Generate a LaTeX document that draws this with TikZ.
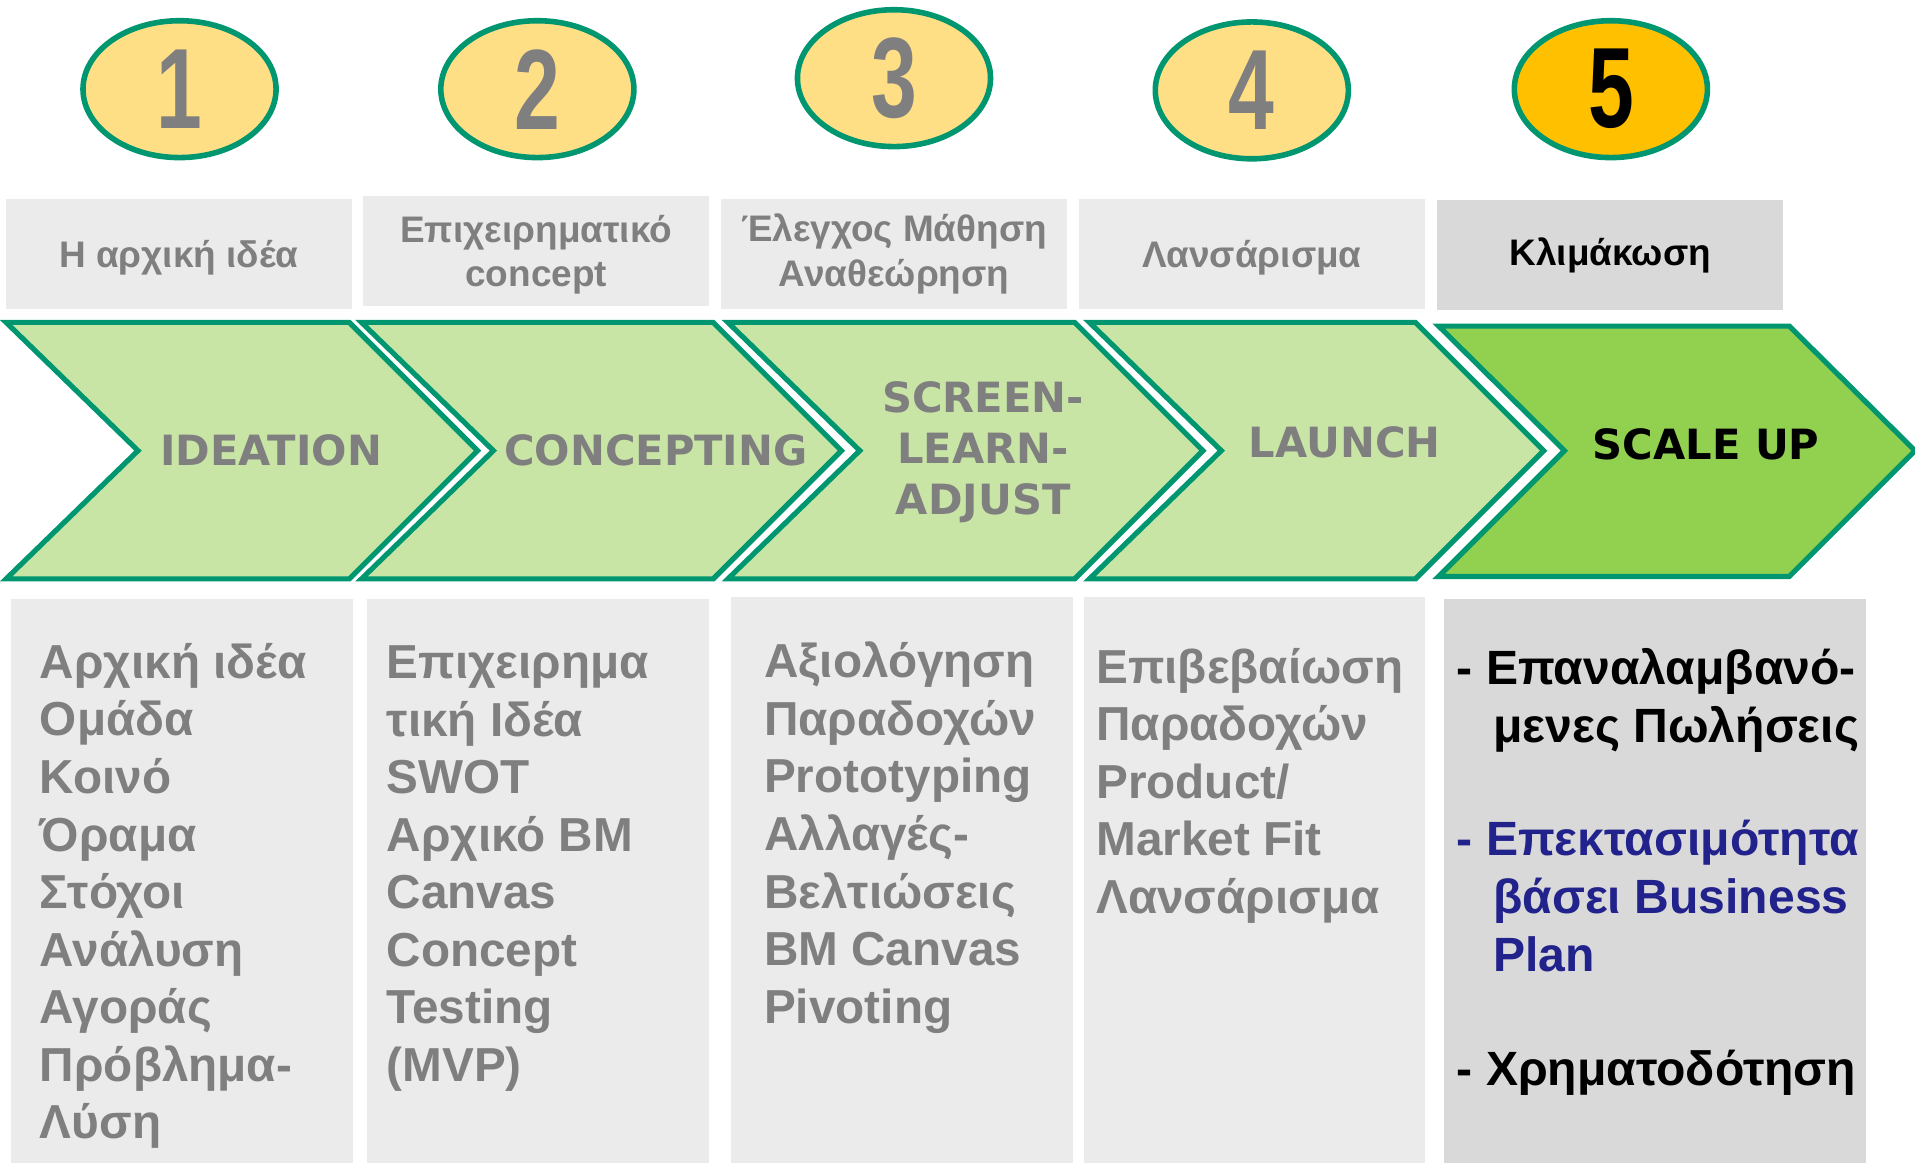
\documentclass[tikz,border=0pt]{standalone}
\usepackage{fontspec}
\setmainfont{Liberation Sans}
\newfontfamily\chevfont{DejaVu Sans}
\usepackage{graphicx}
\usepackage{tikz}
\usetikzlibrary{positioning,shapes.geometric}
\definecolor{stepgreen}{HTML}{009670}
\definecolor{lightleaf}{HTML}{C9E5A6}
\definecolor{brightleaf}{HTML}{92D050}
\definecolor{paleyellow}{HTML}{FFDF85}
\definecolor{goldyellow}{HTML}{FFC000}
\definecolor{textgray}{HTML}{7F7F7F}
\definecolor{panelgray}{HTML}{EBEBEB}
\definecolor{darkpanel}{HTML}{D9D9D9}
\definecolor{navyblue}{HTML}{22228C}
\newcommand{\digit}[1]{\scalebox{0.72}[1]{\fontsize{26.6}{26.6}\selectfont\bfseries #1}}
\newcommand{\indentline}{\hspace*{0.3cm}}
\tikzset{
  badge/.style={ellipse, draw=stepgreen, line width=1.3pt, fill=paleyellow, minimum width=1.58cm, minimum height=1.12cm, inner sep=0pt, text=textgray},
  header/.style={rectangle, fill=panelgray, minimum width=2.83cm, minimum height=0.9cm, inner sep=0pt, text=textgray, align=center, font=\fontsize{8.6}{10.3}\selectfont\bfseries},
  chevron/.style={draw=stepgreen, line width=1.2pt, fill=lightleaf, line join=miter},
  phase/.style={text=textgray, align=center, font=\chevfont\bfseries\fontsize{9.7}{11.9}\selectfont},
  panel/.style={rectangle, fill=panelgray, minimum width=2.8cm, minimum height=4.62cm, inner sep=0pt, anchor=north west},
  itemlist/.style={align=left, inner sep=0pt, text=textgray, font=\fontsize{11.1}{13.4}\selectfont\bfseries},
  scaleitem/.style={itemlist, text=black, font=\fontsize{11.2}{13.5}\selectfont\bfseries}
}
\begin{document}
\begin{tikzpicture}[x=0.01cm, y=-0.01cm]
  \useasboundingbox (0,0) rectangle (1568,952);
  % Numbers
  \node (badge1) [badge] at (147,73) {\digit{1}};
  \node (badge2) [badge] at (440,73) {\digit{2}};
  \node (badge3) [badge] at (732,64) {\digit{3}};
  \node (badge4) [badge] at (1025,74) {\digit{4}};
  \node (badge5) [badge, fill=goldyellow, text=black] at (1319,73) {\digit{5}};

  % Headers
  \node (hdr1) [header, text depth=0pt] at (146.5,208) {Η αρχική ιδέα};
  \node (hdr2) [header, text depth=0pt] at (439,205.5) {Επιχειρηματικό\\concept};
  \node (hdr3) [header] at (732,208) {Έλεγχος Μάθηση\\Αναθεώρηση};
  \node (hdr4) [header, text depth=0pt] at (1025,208) {Λανσάρισμα};
  \node (hdr5) [header, fill=darkpanel, text=black] at (1318.5,209) {Κλιμάκωση};

  % Chevrons
  \draw [chevron] (5,264) -- ++(281,0) -- ++(105,105) -- ++(-105,105) -- ++(-281,0) -- ++(108,-105) -- cycle;
  \draw [chevron] (296,264) -- ++(288,0) -- ++(105,105) -- ++(-105,105) -- ++(-288,0) -- ++(108,-105) -- cycle;
  \draw [chevron] (596,264) -- ++(284,0) -- ++(105,105) -- ++(-105,105) -- ++(-284,0) -- ++(108,-105) -- cycle;
  \draw [chevron] (892,264) -- ++(267,0) -- ++(105,105) -- ++(-105,105) -- ++(-267,0) -- ++(108,-105) -- cycle;
  \draw [chevron, fill=brightleaf] (1178,267) -- ++(287,0) -- ++(103,102) -- ++(-103,103) -- ++(-287,0) -- ++(103,-103) -- cycle;

  \node (phase1) [phase] at (222,369) {IDEATION};
  \node (phase2) [phase] at (537,369) {CONCEPTING};
  \node (phase3) [phase] at (805,370) {SCREEN-\\LEARN-\\ADJUST};
  \node (phase4) [phase] at (1101,362) {LAUNCH};
  \node (phase5) [phase, text=black] at (1397,364) {SCALE UP};

  % Panels
  \node (panel1) [panel] at (8,490) {};
  \node (panel2) [panel] at (300,490) {};
  \node (panel3) [panel, minimum height=4.64cm] at (598,488) {};
  \node (panel4) [panel, minimum width=2.79cm, minimum height=4.64cm] at (887,488) {};
  \node (panel5) [panel, fill=darkpanel, minimum width=3.45cm] at (1182,490) {};

  \node (list1) [itemlist, below right=0.36cm and 0.24cm of panel1.north west] {Αρχική ιδέα\\Ομάδα\\Κοινό\\Όραμα\\Στόχοι\\Ανάλυση\\Αγοράς\\Πρόβλημα-\\Λύση};
  \node (list2) [itemlist, below right=0.38cm and 0.16cm of panel2.north west] {Επιχειρημα\\τική Ιδέα\\SWOT\\Αρχικό BM\\Canvas\\Concept\\Testing\\(MVP)};
  \node (list3) [itemlist, below right=0.37cm and 0.27cm of panel3.north west] {Αξιολόγηση\\Παραδοχών\\Prototyping\\Αλλαγές-\\Βελτιώσεις\\BM Canvas\\Pivoting};
  \node (list4) [itemlist, below right=0.42cm and 0.10cm of panel4.north west] {Επιβεβαίωση\\Παραδοχών\\Product/\\Market Fit\\Λανσάρισμα};

  \node (sales) [scaleitem, below right=0.40cm and 0.10cm of panel5.north west] {- Επαναλαμβανό-\\\indentline μενες Πωλήσεις};
  \node (growth) [scaleitem, text=navyblue, below right=1.81cm and 0.10cm of panel5.north west] {- Επεκτασιμότητα\\\indentline βάσει Business\\\indentline Plan};
  \node (funding) [scaleitem, below right=3.69cm and 0.10cm of panel5.north west] {- Χρηματοδότηση};
\end{tikzpicture}
\end{document}
